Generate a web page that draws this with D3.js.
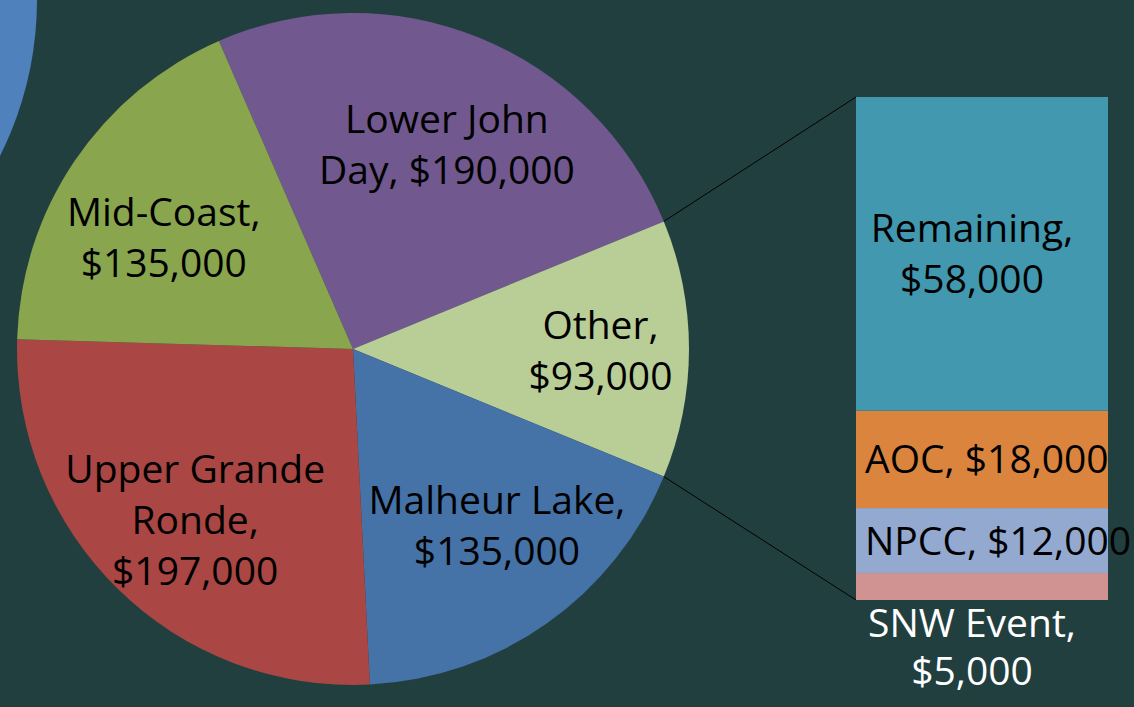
<!DOCTYPE html>
<html>
<head>
<meta charset="utf-8">
<script src="https://cdn.jsdelivr.net/npm/d3@7"></script>
<style>
    html, body { margin: 0; padding: 0; background: #223f3f; }
    svg { display: block; }
    text { font-family: "Open Sans", "Noto Sans", sans-serif; }
</style>
</head>
<body>
<div class="chart"></div>
<script>
// pie: the five project areas
const pieNames = ['Lower John Day', 'Other', 'Malheur Lake', 'Upper Grande Ronde', 'Mid-Coast']
const pieValues = [190000, 93000, 135000, 197000, 135000]
const pieLabels = [['Lower John', 'Day, $190,000'], ['Other,', '$93,000'], ['Malheur Lake,', '$135,000'], ['Upper Grande', 'Ronde,', '$197,000'], ['Mid-Coast,', '$135,000']]
const pieColors = ['#71588f', '#b9cd96', '#4572a7', '#aa4643', '#89a54e']

// bar: breakdown of "Other", bottom to top
const barNames = ['SNW Event', 'NPCC', 'AOC', 'Remaining']
const barValues = [5000, 12000, 18000, 58000]
const barLabels = [['SNW Event,', '$5,000'], ['NPCC, $12,000'], ['AOC, $18,000'], ['Remaining,', '$58,000']]
const barColors = ['#d19392', '#93a9cf', '#db843d', '#4198af']

const width = 1134
const height = 707

const svg = d3.select('.chart').append('svg')
    .attr('width', width)
    .attr('height', height)

svg.append('rect')
    .attr('width', width)
    .attr('height', height)
    .attr('fill', '#223f3f')

// decorative circle peeking in from the slide edge
svg.append('circle')
    .attr('cx', -310)
    .attr('cy', 0)
    .attr('r', 347)
    .attr('fill', '#4f81bd')

// ---- pie
const cx = 353
const cy = 349
const radius = 336

const total = d3.sum(pieValues)
const otherIdx = pieNames.indexOf('Other')
const before = d3.sum(pieValues.slice(0, otherIdx)) + pieValues[otherIdx] / 2
const start = Math.PI / 2 - before / total * 2 * Math.PI

const pie = d3.pie()
    .sort(null)
    .value(d => d)
    .startAngle(start)
    .endAngle(start + 2 * Math.PI)

const arcs = pie(pieValues)
const arc = d3.arc().innerRadius(0).outerRadius(radius)
const labelArc = d3.arc().innerRadius(radius * 0.68).outerRadius(radius * 0.68)
// small hand nudges so labels sit where the original placed them
const labelNudge = [[8, 7], [19, 1], [12, -10], [2, 8], [0, 16]]

const g = svg.append('g').attr('transform', `translate(${cx},${cy})`)

g.selectAll('path')
    .data(arcs)
    .enter()
    .append('path')
    .attr('d', arc)
    .attr('fill', (d, i) => pieColors[i])

const lineH = 51
const fontSize = 39

g.selectAll('text.pie')
    .data(arcs)
    .enter()
    .append('text')
    .attr('class', 'pie')
    .attr('text-anchor', 'middle')
    .attr('font-size', fontSize)
    .attr('fill', '#000')
    .attr('transform', (d, i) => {
        const c = labelArc.centroid(d)
        return `translate(${c[0] + labelNudge[i][0]},${c[1] + labelNudge[i][1]})`
    })
    .each(function (d, i) {
        const lines = pieLabels[i]
        const off = -(lines.length - 1) * lineH / 2
        d3.select(this).selectAll('tspan')
            .data(lines)
            .enter()
            .append('tspan')
            .attr('x', 0)
            .attr('y', (l, j) => off + j * lineH)
            .attr('dy', '0.36em')
            .text(l => l)
    })

// ---- bar of "Other"
const barX0 = 856
const barX1 = 1108
const y = d3.scaleLinear()
    .domain([0, d3.sum(barValues)])
    .range([600, 97])

const cum = d3.cumsum(barValues)
const segs = barValues.map((v, i) => ({ lo: cum[i] - v, hi: cum[i] }))

svg.selectAll('rect.seg')
    .data(segs)
    .enter()
    .append('rect')
    .attr('class', 'seg')
    .attr('x', barX0)
    .attr('width', barX1 - barX0)
    .attr('y', d => y(d.hi))
    .attr('height', d => y(d.lo) - y(d.hi))
    .attr('fill', (d, i) => barColors[i])

// connector lines from the "Other" slice to the bar
const oth = arcs[otherIdx]
const edge = a => [cx + radius * Math.sin(a), cy - radius * Math.cos(a)]
const pTop = edge(oth.startAngle)
const pBot = edge(oth.endAngle)

svg.append('line')
    .attr('x1', pTop[0]).attr('y1', pTop[1])
    .attr('x2', barX0).attr('y2', y.range()[1])
    .attr('stroke', '#000').attr('stroke-width', 1)
svg.append('line')
    .attr('x1', pBot[0]).attr('y1', pBot[1])
    .attr('x2', barX0).attr('y2', y.range()[0])
    .attr('stroke', '#000').attr('stroke-width', 1)

const barMid = (barX0 + barX1) / 2
svg.selectAll('text.bar')
    .data(segs)
    .enter()
    .append('text')
    .attr('class', 'bar')
    .attr('font-size', fontSize)
    .each(function (d, i) {
        const lines = barLabels[i]
        const t = d3.select(this)
        let yc = (y(d.lo) + y(d.hi)) / 2
        let fill = '#000'
        let anchor = 'middle'
        let x = barMid - 10
        let lh = lineH
        if (i === 0) {
            // too thin, label sits below the bar
            lh = 48
            yc = y(0) + 47
            fill = '#fff'
        } else if (lines.length === 1) {
            anchor = 'start'
            x = barX0 + 9
        }
        t.attr('text-anchor', anchor).attr('fill', fill)
        const off = -(lines.length - 1) * lh / 2
        t.selectAll('tspan')
            .data(lines)
            .enter()
            .append('tspan')
            .attr('x', x)
            .attr('y', (l, j) => yc + off + j * lh)
            .attr('dy', '0.36em')
            .text(l => l)
    })
</script>
</body>
</html>
